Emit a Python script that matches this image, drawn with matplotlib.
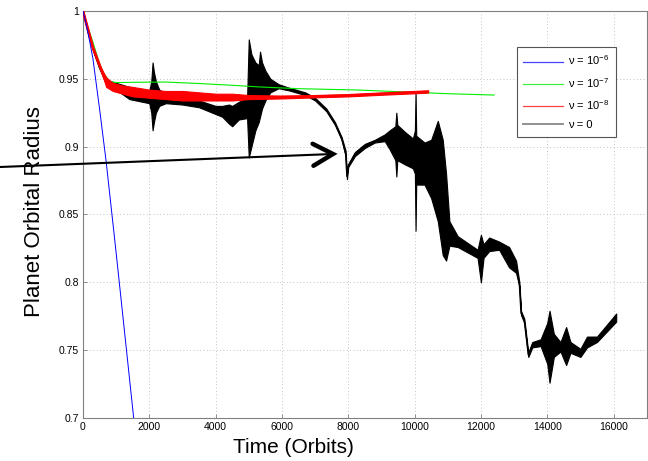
import numpy as np
import matplotlib
matplotlib.use("Agg")
import matplotlib.pyplot as plt
from matplotlib.lines import Line2D

plt.rcParams['font.family'] = ['Liberation Sans', 'DejaVu Sans']
plt.rcParams['mathtext.fontset'] = 'custom'
plt.rcParams['mathtext.rm'] = 'Liberation Sans'

# nu = 1e-6 (blue)
t_blue = [0, 100, 200, 300, 500, 700, 1000, 1530, 1700]
r_blue = [1.0, 0.99, 0.978, 0.965, 0.928, 0.889, 0.822, 0.70, 0.662]

# nu = 1e-7 (green)
t_green = [0, 150, 300, 450, 600, 800, 1000, 1500, 2500, 3500, 4500, 5300, 6500, 8300, 10000, 11000, 12400]
r_green = [1.0, 0.988, 0.977, 0.965, 0.955, 0.948, 0.9472, 0.9474, 0.9476, 0.9465, 0.9452, 0.944,
           0.9427, 0.9417, 0.9400, 0.9390, 0.9380]

# nu = 1e-8 (red) - lower / upper envelope of the oscillation
t_red = [0, 300, 500, 700, 900, 1200, 1500, 2000, 2500, 3000, 3500, 4000, 4500, 5000, 6000, 7000,
         8000, 9000, 10000, 10400]
red_lo = [1.0, 0.973, 0.960, 0.944, 0.941, 0.939, 0.937, 0.936, 0.935, 0.934, 0.934, 0.934, 0.934,
          0.935, 0.9355, 0.9363, 0.9370, 0.9382, 0.9393, 0.9398]
red_hi = [1.0, 0.973, 0.960, 0.951, 0.947, 0.945, 0.944, 0.942, 0.941, 0.941, 0.940, 0.939, 0.939,
          0.938, 0.9375, 0.9378, 0.9385, 0.9397, 0.9408, 0.9412]

# nu = 0 (black) - lower / upper envelope
t_black = [0, 150, 300, 500, 700, 1000, 1400, 1800, 2000, 2060, 2100, 2140, 2200, 2300, 2500, 3000,
           3500, 4000, 4200, 4400, 4500, 4700, 4950, 5000, 5080, 5200, 5300, 5340, 5400, 5500, 5650,
           5900, 6200, 6700, 7000, 7340, 7600, 7800, 7920, 7960, 8000, 8200, 8500, 8800, 9100, 9250,
           9420, 9450, 9480, 9700, 9950, 10010, 10030, 10050, 10300, 10500, 10700, 10850, 10950, 11050,
           11300, 11600, 11900, 12000, 12080, 12250, 12550, 12850, 13060, 13160, 13210, 13310,
           13430, 13550, 13800, 14000, 14070, 14200, 14400, 14570, 14700, 15000, 15200, 15500, 16080]
black_lo = [1.0, 0.985, 0.972, 0.958, 0.946, 0.942, 0.935, 0.933, 0.932, 0.925, 0.912, 0.918, 0.925,
            0.930, 0.932, 0.931, 0.929, 0.924, 0.922, 0.917, 0.915, 0.920, 0.921, 0.892, 0.900,
            0.912, 0.918, 0.922, 0.928, 0.934, 0.940, 0.943, 0.9415, 0.938, 0.934, 0.926, 0.916,
            0.905, 0.893, 0.876, 0.885, 0.893, 0.899, 0.903, 0.904, 0.898, 0.890, 0.878, 0.890,
            0.887, 0.884, 0.880, 0.838, 0.872, 0.872, 0.862, 0.845, 0.820, 0.816, 0.827, 0.826,
            0.822, 0.818, 0.800, 0.818, 0.823, 0.824, 0.811, 0.807, 0.797, 0.776, 0.770, 0.745,
            0.752, 0.753, 0.740, 0.726, 0.745, 0.749, 0.739, 0.748, 0.745, 0.752, 0.756, 0.771]
black_hi = [1.0, 0.985, 0.972, 0.958, 0.949, 0.947, 0.944, 0.940, 0.941, 0.948, 0.962, 0.955, 0.948,
            0.942, 0.939, 0.936, 0.934, 0.930, 0.930, 0.931, 0.930, 0.933, 0.936, 0.979, 0.968,
            0.962, 0.960, 0.970, 0.962, 0.956, 0.950, 0.946, 0.9435, 0.940, 0.936, 0.928, 0.918,
            0.907, 0.897, 0.880, 0.887, 0.896, 0.902, 0.905, 0.909, 0.912, 0.915, 0.925, 0.916,
            0.911, 0.906, 0.912, 0.940, 0.908, 0.903, 0.905, 0.919, 0.905, 0.880, 0.845, 0.834,
            0.829, 0.824, 0.835, 0.828, 0.833, 0.830, 0.826, 0.816, 0.800, 0.779, 0.773, 0.748,
            0.756, 0.758, 0.770, 0.779, 0.762, 0.756, 0.767, 0.756, 0.751, 0.760, 0.760, 0.777]

xticks = [0, 2000, 4000, 6000, 8000, 10000, 12000, 14000, 16000]
yticks = [0.7, 0.75, 0.8, 0.85, 0.9, 0.95, 1.0]
ytick_labels = ['0.7', '0.75', '0.8', '0.85', '0.9', '0.95', '1']
labels = ['ν = 10$^{-6}$', 'ν = 10$^{-7}$', 'ν = 10$^{-8}$', 'ν = 0']

fig = plt.figure(figsize=(6.48, 4.61), dpi=100)
ax = fig.add_axes([0.128, 0.0933, 0.870, 0.883])

black_mid = (np.array(black_lo) + np.array(black_hi)) / 2
ax.fill_between(t_black, black_lo, black_hi, color='k', lw=0.8, zorder=2)
ax.plot(t_black, black_mid, color='k', lw=1.0, zorder=2)
ax.plot(t_green, r_green, color='#00ee00', lw=0.8, zorder=3)
red_mid = (np.array(red_lo) + np.array(red_hi)) / 2
ax.fill_between(t_red, red_lo, red_hi, color='#ff0000', lw=0.8, zorder=4)
ax.plot(t_red, red_mid, color='#ff0000', lw=2.0, zorder=4)
ax.plot(t_blue, r_blue, color='#0000ff', lw=0.7, zorder=5)

ax.set_xlim(0, 17000)
ax.set_ylim(0.7, 1.0)
ax.set_xticks(xticks)
ax.set_xticklabels([str(x) for x in xticks])
ax.set_yticks(yticks)
ax.set_yticklabels(ytick_labels)
ax.tick_params(direction='in', length=3, width=0.6, color='#808080', labelsize=7.5, pad=3)
ax.grid(True, linestyle=(0, (1, 3)), color='#b0b0b0', lw=0.6)
for s in ax.spines.values():
    s.set_color('#808080')
    s.set_linewidth(0.8)

handles = [Line2D([], [], color='#4444ff', lw=0.9),
           Line2D([], [], color='#44ee44', lw=0.9),
           Line2D([], [], color='#ff4444', lw=0.9),
           Line2D([], [], color='#888888', lw=1.3)]
leg = ax.legend(handles, labels, loc='upper left', bbox_to_anchor=(0.7695, 0.9115),
                fontsize=8, handlelength=3.6, handletextpad=0.4, labelspacing=0.75,
                borderpad=0.6, borderaxespad=0, fancybox=False, framealpha=1)
leg.get_frame().set_edgecolor('#555555')
leg.get_frame().set_linewidth(0.8)

fig.text(35 / 648, 0.54, 'Planet Orbital Radius', rotation=90, ha='center', va='center', fontsize=16)
fig.text(293 / 648, 0.030, 'Time (Orbits)', ha='center', va='center', fontsize=15)

# arrow (display pixels)
tail = np.array([0.0, 294.0])
tip = np.array([333.0, 307.0])
d = (tip - tail) / np.linalg.norm(tip - tail)
n = np.array([-d[1], d[0]])
fig.add_artist(Line2D([tail[0], tip[0] - 2 * d[0]], [tail[1], tip[1] - 2 * d[1]],
                      color='k', lw=1.5, transform=None))
p1 = tip - 20 * d + 11 * n
p2 = tip - 20 * d - 11 * n
fig.add_artist(Line2D([p1[0], tip[0], p2[0]], [p1[1], tip[1], p2[1]], color='k', lw=3.2,
                      solid_capstyle='round', solid_joinstyle='miter', transform=None))

fig.savefig('out.png', dpi=100)
